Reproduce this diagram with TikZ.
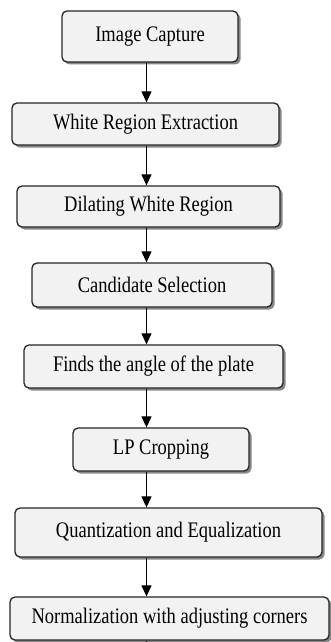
\documentclass[tikz,border=0pt]{standalone}
\usepackage{fontspec}
\setmainfont{Liberation Serif}
\usepackage{graphicx}
\usetikzlibrary{shadows,arrows.meta}
\newcommand{\stretchtxt}[1]{\scalebox{1}[1.2]{#1}}
\begin{document}
\begin{tikzpicture}[x=1pt,y=-1pt,
  stepbox/.style={draw=black!85, line width=1.3pt, rounded corners=5pt, fill=black!5,
    drop shadow={shadow xshift=2.5pt, shadow yshift=-2.5pt, fill=black!55, opacity=0.85},
    inner sep=0pt, font=\fontsize{18.5}{20}\selectfont},
  flow/.style={line width=1.2pt, -{Triangle[length=11pt,width=10pt]}}]
\useasboundingbox (0,0) rectangle (331,642);
\fill[white] (0,0) rectangle (331,642);
\coordinate (ax) at (146.5,0);
\coordinate (bottom) at (146.5,642);
\node[stepbox, minimum width=176pt, minimum height=51pt] (b1) at (150,36.5) {\stretchtxt{Image Capture}};
\node[stepbox, minimum width=267pt, minimum height=42pt] (b2) at (145.5,124) {\stretchtxt{White Region Extraction}};
\node[stepbox, minimum width=263pt, minimum height=41pt] (b3) at (148.5,206.5) {\stretchtxt{Dilating White Region}};
\node[stepbox, minimum width=240pt, minimum height=44pt] (b4) at (152,285) {\stretchtxt{Candidate Selection}};
\node[stepbox, minimum width=259pt, minimum height=43pt] (b5) at (153.5,366.5) {\stretchtxt{Finds the angle of the plate}};
\node[stepbox, minimum width=176pt, minimum height=43pt] (b6) at (161,449.5) {\stretchtxt{LP Cropping}};
\node[stepbox, minimum width=307pt, minimum height=49pt] (b7) at (168.5,532.5) {\stretchtxt{Quantization and Equalization}};
\node[stepbox, minimum width=319pt, minimum height=43pt] (b8) at (169.5,618.5) {\stretchtxt{Normalization with adjusting corners}};
\draw[flow] (b1.south -| ax) -- (b2.north -| ax);
\draw[flow] (b2.south -| ax) -- (b3.north -| ax);
\draw[flow] (b3.south -| ax) -- (b4.north -| ax);
\draw[flow] (b4.south -| ax) -- (b5.north -| ax);
\draw[flow] (b5.south -| ax) -- (b6.north -| ax);
\draw[flow] (b6.south -| ax) -- (b7.north -| ax);
\draw[flow] (b7.south -| ax) -- (b8.north -| ax);
\draw[line width=1.2pt] (b8.south -| ax) -- (bottom);
\end{tikzpicture}
\end{document}
